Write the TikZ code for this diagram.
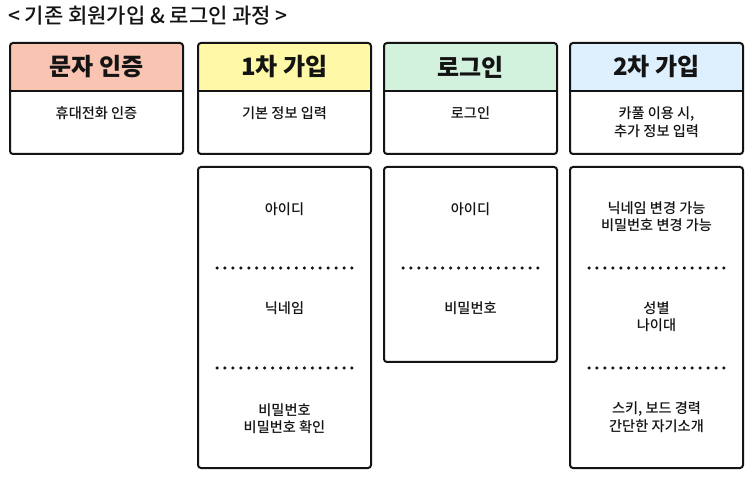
\documentclass[tikz,border=0pt]{standalone}
\usepackage{fontspec}
\setmainfont{Noto Sans CJK KR}
\newfontfamily\krmed{Noto Sans CJK KR Medium}
\newfontfamily\krblack{Noto Sans CJK KR Black}
\definecolor{hpink}{RGB}{249,196,178}
\definecolor{hyellow}{RGB}{255,248,166}
\definecolor{hgreen}{RGB}{211,242,222}
\definecolor{hblue}{RGB}{222,240,253}
\definecolor{ink}{RGB}{20,20,20}
\begin{document}
\begin{tikzpicture}[x=1pt,y=-1pt,
  frame/.style={draw=ink, line width=2pt, rounded corners=3pt},
  divider/.style={draw=ink, line width=2pt},
  htext/.style={font=\krblack\fontsize{24}{27}\selectfont, text=ink, inner sep=0pt},
  btext/.style={font=\krmed\fontsize{14.2}{17.5}\selectfont, align=center, text=ink, inner sep=0pt},
  dotline/.style={draw=ink, line width=3.5pt, dash pattern=on 0pt off 7.94pt, line cap=round}]
\useasboundingbox (0,0) rectangle (753,478);
\fill[white] (0,0) rectangle (753,478);

% title
\node[anchor=west, font=\krmed\fontsize{21}{24}\selectfont, text=ink, inner sep=0pt] (title) at (8,16) {< 기존 회원가입 \& 로그인 과정 >};

% header fills
\fill[hpink]   (10,91) [rounded corners=3pt] -- (10,43) -- (183,43) [sharp corners] -- (183,91) -- cycle;
\fill[hyellow] (198,91) [rounded corners=3pt] -- (198,43) -- (371,43) [sharp corners] -- (371,91) -- cycle;
\fill[hgreen]  (384,91) [rounded corners=3pt] -- (384,43) -- (557,43) [sharp corners] -- (557,91) -- cycle;
\fill[hblue]   (570,91) [rounded corners=3pt] -- (570,43) -- (743,43) [sharp corners] -- (743,91) -- cycle;

% upper frames
\draw[frame] (10,43) rectangle (183,154);
\draw[frame] (198,43) rectangle (371,154);
\draw[frame] (384,43) rectangle (557,154);
\draw[frame] (570,43) rectangle (743,154);
\draw[divider] (10,91) -- (183,91);
\draw[divider] (198,91) -- (371,91);
\draw[divider] (384,91) -- (557,91);
\draw[divider] (570,91) -- (743,91);

% header texts
\node[htext] (h1) at (96.5,67) {문자 인증};
\node[htext] (h2) at (284.5,67) {1차 가입};
\node[htext] (h3) at (470.5,67) {로그인};
\node[htext] (h4) at (656.5,67) {2차 가입};

% body texts
\node[btext] (b1) at (96.5,113) {휴대전화 인증};
\node[btext] (b2) at (284.5,113) {기본 정보 입력};
\node[btext] (b3) at (470.5,113) {로그인};
\node[btext] (b4) at (656.5,122) {카풀 이용 시,\\추가 정보 입력};

% lower frames
\draw[frame] (198,167) rectangle (371,468);
\draw[frame] (384,167) rectangle (557,362);
\draw[frame] (570,167) rectangle (743,468);

% column 2 lower
\node[btext] (c2a) at (284.5,209) {아이디};
\node[btext] (c2b) at (284.5,308) {닉네임};
\node[btext] (c2c) at (284.5,418.5) {비밀번호\\비밀번호 확인};
\coordinate (d2a1) at (217,268); \coordinate (d2a2) at (352,268);
\coordinate (d2b1) at (217,368); \coordinate (d2b2) at (352,368);
\draw[dotline] (d2a1) -- (d2a2);
\draw[dotline] (d2b1) -- (d2b2);

% column 3 lower
\node[btext] (c3a) at (470.5,209) {아이디};
\node[btext] (c3b) at (470.5,308) {비밀번호};
\coordinate (d3a1) at (403,268); \coordinate (d3a2) at (538,268);
\draw[dotline] (d3a1) -- (d3a2);

% column 4 lower
\node[btext] (c4a) at (656.5,216.5) {닉네임 변경 가능\\비밀번호 변경 가능};
\node[btext] (c4b) at (656.5,316.5) {성별\\나이대};
\node[btext] (c4c) at (656.5,417) {스키, 보드 경력\\간단한 자기소개};
\coordinate (d4a1) at (589,268); \coordinate (d4a2) at (724,268);
\coordinate (d4b1) at (589,368); \coordinate (d4b2) at (724,368);
\draw[dotline] (d4a1) -- (d4a2);
\draw[dotline] (d4b1) -- (d4b2);
\end{tikzpicture}
\end{document}
